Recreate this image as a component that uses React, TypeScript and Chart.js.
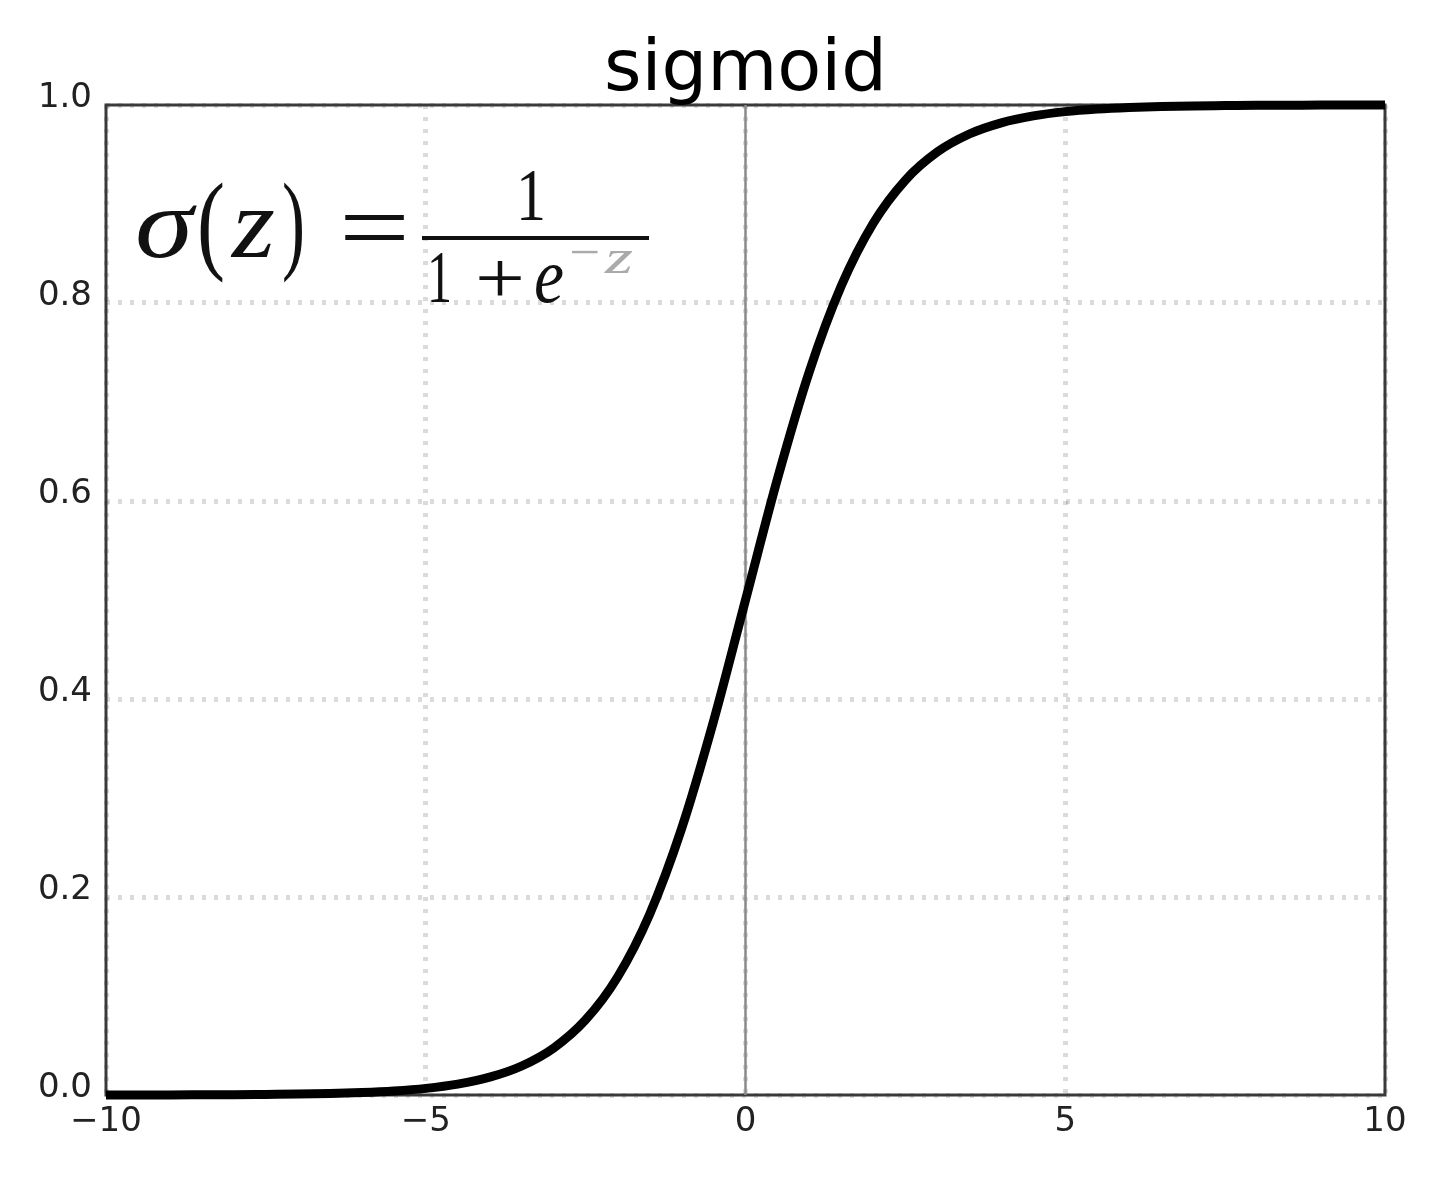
import React, { useEffect, useRef } from "react";
import { Chart, registerables } from "chart.js";

Chart.register(...registerables);

// ---- data ----
const zValues = [
  -10, -9.5, -9, -8.5, -8, -7.5, -7, -6.5, -6, -5.5, -5, -4.5, -4, -3.5, -3, -2.5, -2, -1.5, -1, -0.5,
  0, 0.5, 1, 1.5, 2, 2.5, 3, 3.5, 4, 4.5, 5, 5.5, 6, 6.5, 7, 7.5, 8, 8.5, 9, 9.5, 10,
];
const sigmaValues = [
  0.0, 0.0001, 0.0001, 0.0002, 0.0003, 0.0006, 0.0009, 0.0015, 0.0025, 0.0041, 0.0067, 0.011, 0.018,
  0.0293, 0.0474, 0.0759, 0.1192, 0.1824, 0.2689, 0.3775, 0.5, 0.6225, 0.7311, 0.8176, 0.8808, 0.9241,
  0.9526, 0.9707, 0.982, 0.989, 0.9933, 0.9959, 0.9975, 0.9985, 0.9991, 0.9994, 0.9997, 0.9998, 0.9999,
  0.9999, 1.0,
];
const zeroLineX = [0, 0];
const zeroLineY = [0, 1];
const xTickValues = [-10, -5, 0, 5, 10];
const xTickLabels = ["\u221210", "\u22125", "0", "5", "10"];
const yTickValues = [0, 0.2, 0.4, 0.6, 0.8, 1.0];
const yTickLabels = ["0.0", "0.2", "0.4", "0.6", "0.8", "1.0"];
const titleText = "sigmoid";

const W = 1437;
const H = 1201;

function fitText(
  ctx: CanvasRenderingContext2D,
  text: string,
  font: string,
  x0: number,
  x1: number,
  baseline: number,
  color: string
) {
  ctx.save();
  ctx.font = font;
  ctx.textAlign = "left";
  ctx.textBaseline = "alphabetic";
  const w = ctx.measureText(text).width || 1;
  ctx.translate(x0, baseline);
  ctx.scale((x1 - x0) / w, 1);
  ctx.fillStyle = color;
  ctx.fillText(text, 0, 0);
  ctx.restore();
}

const framePlugin = {
  id: "frame",
  beforeDatasetsDraw(chart: any) {
    const { ctx, chartArea } = chart;
    ctx.save();
    ctx.strokeStyle = "#3a3a3a";
    ctx.lineWidth = 3;
    ctx.strokeRect(chartArea.left, chartArea.top, chartArea.right - chartArea.left, chartArea.bottom - chartArea.top);
    ctx.restore();
  },
};

const textPlugin = {
  id: "texts",
  afterDraw(chart: any) {
    const { ctx, chartArea } = chart;
    ctx.save();
    ctx.font = '72px "DejaVu Sans"';
    ctx.fillStyle = "#000";
    ctx.textAlign = "center";
    ctx.textBaseline = "alphabetic";
    ctx.fillText(titleText, (chartArea.left + chartArea.right) / 2, 90);
    ctx.restore();

    const serif = '"Liberation Serif", "DejaVu Serif", serif';
    const ink = "#111";
    fitText(ctx, "\u03c3", `italic 100px ${serif}`, 135, 193, 257, ink);
    fitText(ctx, "(", `110px ${serif}`, 197, 225, 259, ink);
    fitText(ctx, "z", `italic 100px ${serif}`, 232, 275, 257, ink);
    fitText(ctx, ")", `110px ${serif}`, 282, 305, 259, ink);
    fitText(ctx, "=", `100px ${serif}`, 339, 410, 261, ink);
    ctx.save();
    ctx.fillStyle = ink;
    ctx.fillRect(422, 236, 227, 4);
    ctx.restore();
    fitText(ctx, "1", `74px ${serif}`, 516, 546, 220, ink);
    fitText(ctx, "1", `74px ${serif}`, 427, 452, 302, ink);
    fitText(ctx, "+", `74px ${serif}`, 475, 525, 303, ink);
    fitText(ctx, "e", `italic 78px ${serif}`, 534, 564, 302, ink);
    fitText(ctx, "\u2212", `48px ${serif}`, 569, 600, 268, "#aaa");
    fitText(ctx, "z", `italic 48px ${serif}`, 605, 633, 273, "#aaa");
  },
};

export default function App() {
  const ref = useRef<HTMLCanvasElement | null>(null);

  useEffect(() => {
    const canvas = ref.current;
    if (!canvas) return;
    const curve = zValues.map((x, i) => ({ x, y: sigmaValues[i] }));
    const vline = zeroLineX.map((x, i) => ({ x, y: zeroLineY[i] }));
    const gridCommon = {
      color: "rgba(0,0,0,0.14)",
      lineWidth: 5,
      drawTicks: false,
    };
    const chart = new Chart(canvas, {
      type: "line",
      data: {
        datasets: [
          {
            data: curve,
            borderColor: "#000",
            borderWidth: 9,
            pointRadius: 0,
            fill: false,
            cubicInterpolationMode: "monotone",
            clip: false,
          } as any,
          {
            data: vline,
            borderColor: "#8a8a8a",
            borderWidth: 2.5,
            pointRadius: 0,
            fill: false,
          },
        ],
      },
      options: {
        animation: false,
        responsive: false,
        devicePixelRatio: 1,
        events: [],
        layout: { padding: { top: 105, right: 52, left: 0, bottom: 0 } },
        plugins: { legend: { display: false }, tooltip: { enabled: false }, title: { display: false } },
        scales: {
          x: {
            type: "linear",
            min: -10,
            max: 10,
            afterBuildTicks: (scale: any) => {
              scale.ticks = xTickValues.map((v) => ({ value: v }));
            },
            afterFit: (scale: any) => {
              scale.height = H - 1095;
            },
            grid: gridCommon,
            border: { display: false, dash: [4, 8] },
            ticks: {
              padding: 7,
              color: "#222",
              font: { family: '"DejaVu Sans"', size: 34 },
              maxRotation: 0,
              callback: (v: any) => {
                const i = xTickValues.indexOf(Number(v));
                return i >= 0 ? xTickLabels[i] : "";
              },
            },
          },
          y: {
            type: "linear",
            min: 0,
            max: 1,
            afterBuildTicks: (scale: any) => {
              scale.ticks = yTickValues.map((v) => ({ value: v }));
            },
            afterFit: (scale: any) => {
              scale.width = 106;
            },
            grid: gridCommon,
            border: { display: false, dash: [4, 8] },
            ticks: {
              padding: 14,
              labelOffset: -7,
              color: "#222",
              font: { family: '"DejaVu Sans"', size: 34 },
              callback: (v: any) => {
                const i = yTickValues.findIndex((t) => Math.abs(t - Number(v)) < 1e-9);
                return i >= 0 ? yTickLabels[i] : "";
              },
            },
          },
        },
      } as any,
      plugins: [framePlugin, textPlugin],
    });
    return () => chart.destroy();
  }, []);

  return (
    <div style={{ position: "absolute", left: 0, top: 0, width: W, height: H, background: "#fff" }}>
      <canvas ref={ref} width={W} height={H} style={{ width: W, height: H, display: "block" }} />
    </div>
  );
}
